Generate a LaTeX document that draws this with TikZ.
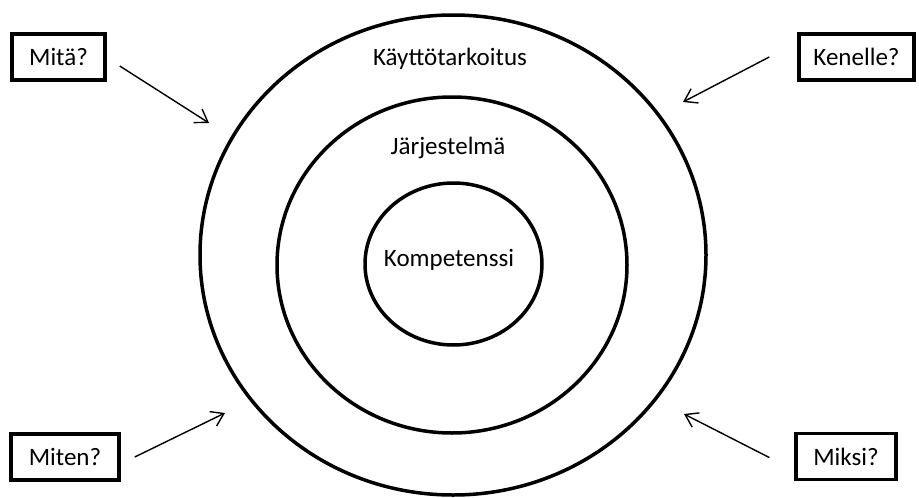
\documentclass[tikz,border=0pt]{standalone}
\usepackage{fontspec}
\setmainfont{Carlito}
\usetikzlibrary{arrows.meta,positioning}

\begin{document}
\begin{tikzpicture}[
  x=1pt, y=-1pt,
  ring/.style={draw, line width=3.5pt},
  qbox/.style={draw, line width=3.5pt, minimum height=46pt, inner sep=0pt, font=\fontsize{25}{30}\selectfont},
  lbl/.style={anchor=base, inner sep=0pt, font=\fontsize{25}{30}\selectfont},
  arr/.style={-{Straight Barb[length=12pt, width=16pt]}, line width=1.4pt}
]
\useasboundingbox (0,0) rectangle (919,498);

% rings
\draw[ring] (453,255) ellipse [x radius=253, y radius=240];
\draw[ring] (452,265) ellipse [x radius=175, y radius=168];
\draw[ring] (453.5,264) ellipse [x radius=88.5, y radius=81];

\node[lbl] (kaytto) at (450,65) {Käyttötarkoitus};
\node[lbl] (jarj) at (448,154) {Järjestelmä};
\node[lbl] (komp) at (449,266.5) {Kompetenssi};

% questions
\node[qbox, minimum width=93pt] (mita) at (58.5,57) {Mitä?};
\node[qbox, minimum width=115pt] (kenelle) at (856.5,57) {Kenelle?};
\node[qbox, minimum width=108pt] (miten) at (65,457) {Miten?};
\node[qbox, minimum width=100pt] (miksi) at (846,456.5) {Miksi?};

\coordinate (tMita) at (209,123);
\coordinate (tKenelle) at (683,102);
\coordinate (tMiten) at (225,413);
\coordinate (tMiksi) at (684,414);

\draw[arr] ([xshift=13pt, yshift=-9pt]mita.east) -- (tMita);
\draw[arr] ([xshift=-28pt]kenelle.west) -- (tKenelle);
\draw[arr] ([xshift=14pt]miten.east) -- (tMiten);
\draw[arr] ([xshift=-25pt, yshift=-1pt]miksi.west) -- (tMiksi);
\end{tikzpicture}
\end{document}
